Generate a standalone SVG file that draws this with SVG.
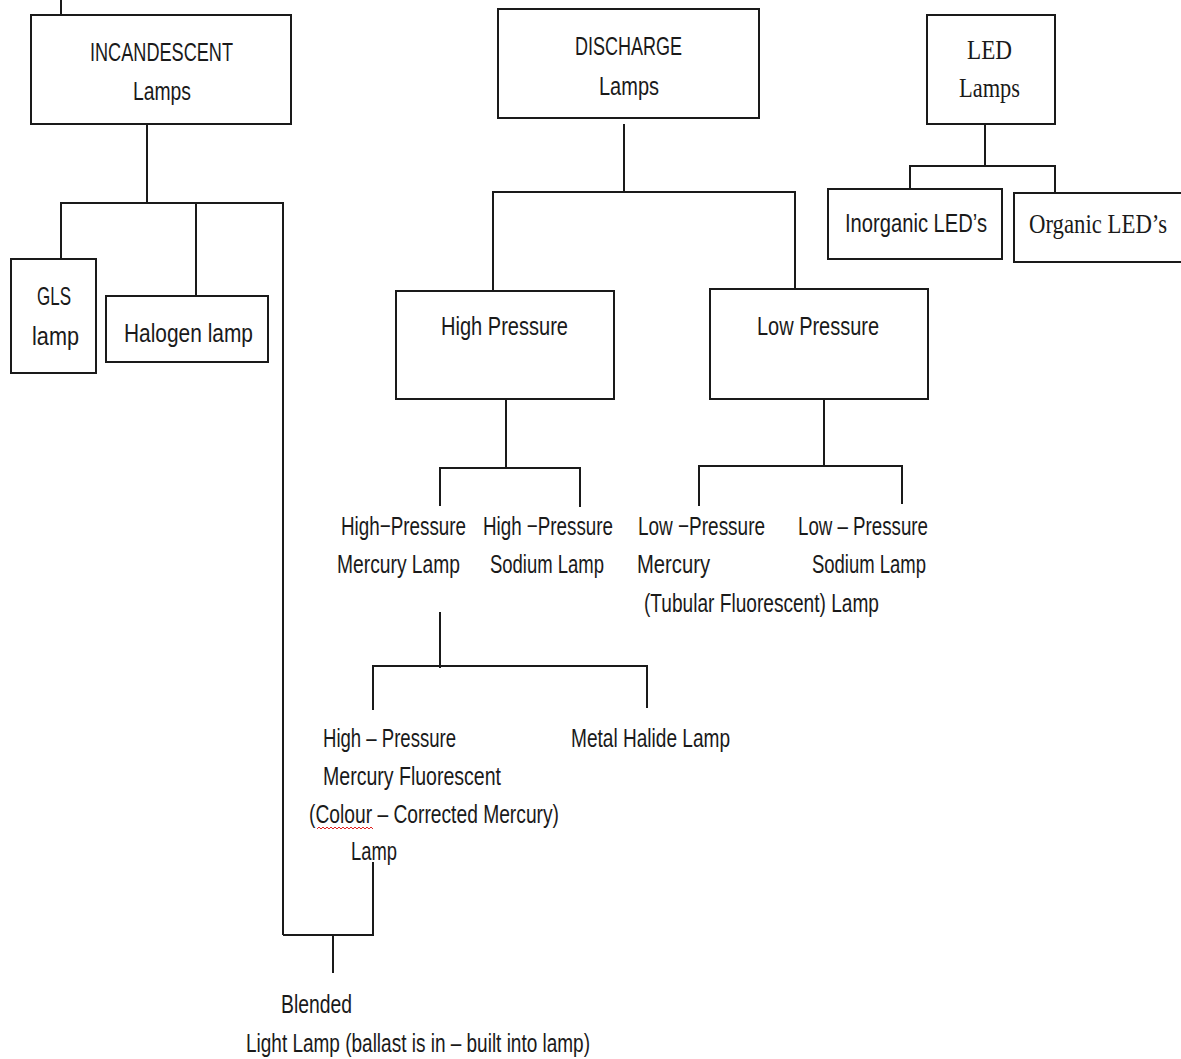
<svg xmlns="http://www.w3.org/2000/svg" width="1181" height="1059" viewBox="0 0 1181 1059">
<style>
.box{fill:#fff;stroke:#1a1a1a;stroke-width:2}
.ln{fill:none;stroke:#1a1a1a;stroke-width:2}
.t{font-family:"Liberation Sans",Arial,sans-serif;font-size:26px;fill:#1a1a1a}
.s{font-family:"Liberation Serif","Times New Roman",serif;font-size:27px;fill:#1a1a1a}
</style>
<rect width="1181" height="1059" fill="#fff"/>
<g id="connectors">
<path class="ln" d="M61,0V15"/>
<path class="ln" d="M147,124V203M61,259V203H283V935M196,203V296"/>
<path class="ln" d="M624,124V192M493,291V192H795V289"/>
<path class="ln" d="M506,399V468M440,506V468H580V507"/>
<path class="ln" d="M824,399V466M699,506V466H902V504"/>
<path class="ln" d="M440,612V668M373,710V666H647V708"/>
<path class="ln" d="M373,862V935H283M333,935V973"/>
<path class="ln" d="M985,124V166M910,189V166H1055V193"/>
</g>
<g id="incandescent">
<rect class="box" x="31" y="15" width="260" height="109"/>
<text class="t" x="90" y="61" textLength="143" lengthAdjust="spacingAndGlyphs">INCANDESCENT</text>
<text class="t" x="133" y="100" textLength="58" lengthAdjust="spacingAndGlyphs">Lamps</text>
</g>
<g id="gls">
<rect class="box" x="11" y="259" width="85" height="114"/>
<text class="t" x="37" y="305" textLength="34" lengthAdjust="spacingAndGlyphs">GLS</text>
<text class="t" x="32" y="345" textLength="47" lengthAdjust="spacingAndGlyphs">lamp</text>
</g>
<g id="halogen">
<rect class="box" x="106" y="296" width="162" height="66"/>
<text class="t" x="124" y="342" textLength="129" lengthAdjust="spacingAndGlyphs">Halogen lamp</text>
</g>
<g id="discharge">
<rect class="box" x="498" y="9" width="261" height="109"/>
<text class="t" x="575" y="55" textLength="107" lengthAdjust="spacingAndGlyphs">DISCHARGE</text>
<text class="t" x="599" y="95" textLength="60" lengthAdjust="spacingAndGlyphs">Lamps</text>
</g>
<g id="led">
<rect class="box" x="927" y="15" width="128" height="109"/>
<text class="s" x="967" y="59" textLength="45" lengthAdjust="spacingAndGlyphs">LED</text>
<text class="s" x="959" y="97" textLength="61" lengthAdjust="spacingAndGlyphs">Lamps</text>
</g>
<g id="inorganic">
<rect class="box" x="828" y="189" width="174" height="70"/>
<text class="t" x="845" y="232" textLength="142" lengthAdjust="spacingAndGlyphs">Inorganic LED’s</text>
</g>
<g id="organic">
<rect class="box" x="1014" y="193" width="172" height="69"/>
<text class="s" x="1029" y="233" textLength="138" lengthAdjust="spacingAndGlyphs">Organic LED’s</text>
</g>
<g id="high-pressure">
<rect class="box" x="396" y="291" width="218" height="108"/>
<text class="t" x="441" y="335" textLength="127" lengthAdjust="spacingAndGlyphs">High Pressure</text>
</g>
<g id="low-pressure">
<rect class="box" x="710" y="289" width="218" height="110"/>
<text class="t" x="757" y="335" textLength="122" lengthAdjust="spacingAndGlyphs">Low Pressure</text>
</g>
<g id="hp-mercury">
<text class="t" x="341" y="535" textLength="125" lengthAdjust="spacingAndGlyphs">High−Pressure</text>
<text class="t" x="337" y="573" textLength="123" lengthAdjust="spacingAndGlyphs">Mercury Lamp</text>
</g>
<g id="hp-sodium">
<text class="t" x="483" y="535" textLength="130" lengthAdjust="spacingAndGlyphs">High −Pressure</text>
<text class="t" x="490" y="573" textLength="114" lengthAdjust="spacingAndGlyphs">Sodium Lamp</text>
</g>
<g id="lp-mercury">
<text class="t" x="638" y="535" textLength="127" lengthAdjust="spacingAndGlyphs">Low −Pressure</text>
<text class="t" x="637" y="573" textLength="73" lengthAdjust="spacingAndGlyphs">Mercury</text>
<text class="t" x="644" y="612" textLength="235" lengthAdjust="spacingAndGlyphs">(Tubular Fluorescent) Lamp</text>
</g>
<g id="lp-sodium">
<text class="t" x="798" y="535" textLength="130" lengthAdjust="spacingAndGlyphs">Low – Pressure</text>
<text class="t" x="812" y="573" textLength="114" lengthAdjust="spacingAndGlyphs">Sodium Lamp</text>
</g>
<g id="hp-mercury-fluorescent">
<text class="t" x="323" y="747" textLength="133" lengthAdjust="spacingAndGlyphs">High – Pressure</text>
<text class="t" x="323" y="785" textLength="178" lengthAdjust="spacingAndGlyphs">Mercury Fluorescent</text>
<text class="t" x="309" y="823" textLength="250" lengthAdjust="spacingAndGlyphs">(Colour – Corrected Mercury)</text>
<path d="M317,829l2,-2l2,2l2,-2l2,2l2,-2l2,2l2,-2l2,2l2,-2l2,2l2,-2l2,2l2,-2l2,2l2,-2l2,2l2,-2l2,2l2,-2l2,2l2,-2l2,2l2,-2l2,2l2,-2l2,2l2,-2l2,2" fill="none" stroke="#e02020" stroke-width="1"/>
<text class="t" x="351" y="860" textLength="46" lengthAdjust="spacingAndGlyphs">Lamp</text>
</g>
<g id="metal-halide">
<text class="t" x="571" y="747" textLength="159" lengthAdjust="spacingAndGlyphs">Metal Halide Lamp</text>
</g>
<g id="blended">
<text class="t" x="281" y="1013" textLength="71" lengthAdjust="spacingAndGlyphs">Blended</text>
<text class="t" x="246" y="1052" textLength="344" lengthAdjust="spacingAndGlyphs">Light Lamp (ballast is in – built into lamp)</text>
</g>
</svg>
